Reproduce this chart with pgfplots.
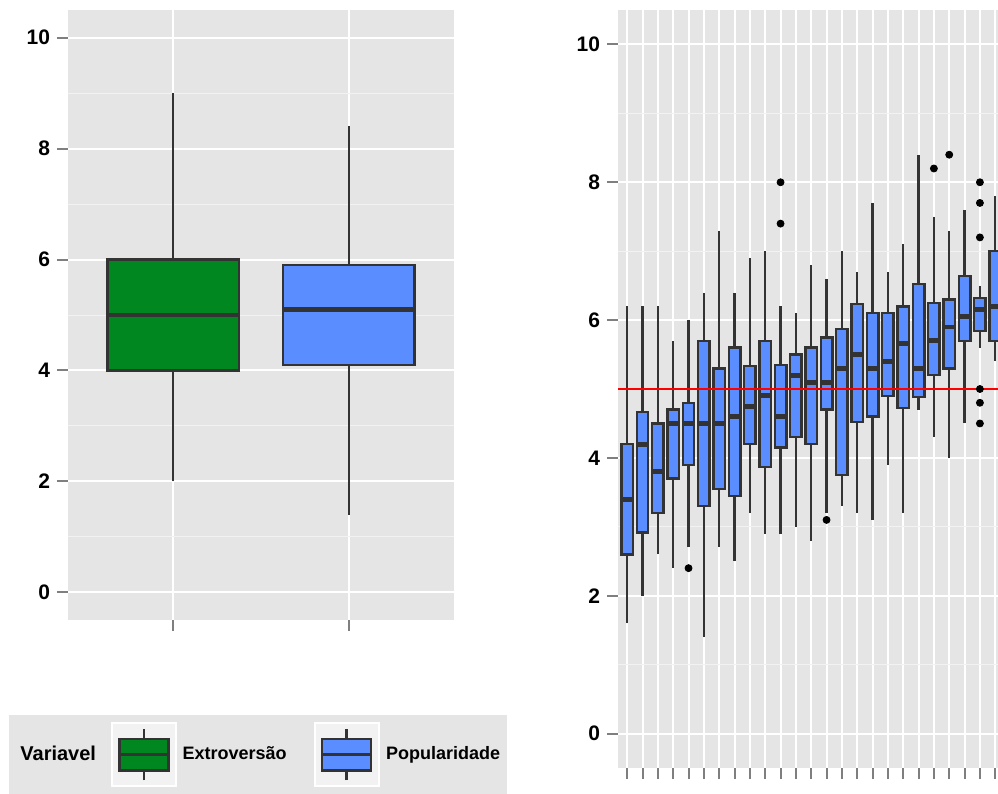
\documentclass[border=0pt]{standalone}
\usepackage{fontspec}
\setmainfont{Liberation Sans}
\usepackage{pgfplots}
\pgfplotsset{compat=1.18}
\usepgfplotslibrary{statistics}

\definecolor{panel}{HTML}{E5E5E5}
\definecolor{minorgrid}{HTML}{F2F2F2}
\definecolor{outline}{HTML}{333333}
\definecolor{tickgray}{HTML}{7F7F7F}
\definecolor{extrofill}{HTML}{00871F}
\definecolor{popfill}{HTML}{5A8DFF}
\definecolor{keybg}{HTML}{F2F2F2}

% legend key: a small boxplot glyph on a light square
\newcommand\boxkey[1]{%
  \draw[white, fill=keybg, line width=1pt] (0pt,-15.75pt) rectangle (32pt,15.75pt);
  \draw[outline, line width=1.2pt] (16pt,-12.75pt) -- (16pt,12.75pt);
  \draw[outline, fill=#1, line width=1.2pt] (3.8pt,-7.9pt) rectangle (28.2pt,7.9pt);
  \draw[outline, line width=1.4pt] (3.8pt,0pt) -- (28.2pt,0pt);
}

\pgfplotsset{
  ggpanel/.style={
    scale only axis,
    axis background/.style={fill=panel},
    axis line style={draw=none},
    ymin=-0.5, ymax=10.5,
    ytick={0,2,4,6,8,10},
    yticklabels={0,2,4,6,8,10},
    minor ytick={1,3,5,7,9},
    xmajorgrids, ymajorgrids, yminorgrids,
    major grid style={white, line width=1pt},
    minor grid style={minorgrid, line width=0.5pt},
    tick align=outside,
    tick pos=left,
    major tick length=5.5pt,
    minor tick length=0pt,
    tick style={tickgray, line width=1pt},
    xticklabels={},
    yticklabel style={font=\bfseries\fontsize{10.5}{12}\selectfont, text=black},
    boxplot/draw direction=y,
    boxplot/box extend=0.75,
    boxplot/whisker extend=0,
    boxplot/every median/.style={line width=2.4pt},
  },
  popbox/.style={draw=outline, fill=popfill, line width=1.2pt, forget plot},
}

\begin{document}
\begin{tikzpicture}
\useasboundingbox (0,0) rectangle (499pt,397pt);

% ---- left panel: overall distributions ----
\begin{axis}[ggpanel,
  at={(34pt,87pt)}, anchor=south west,
  width=193pt, height=305pt,
  xmin=0.4, xmax=2.6, xtick={1,2},
  legend columns=-1,
  legend style={
    at={(axis description cs:-0.1528,-0.1557)}, anchor=north west,
    fill=panel, draw=none,
    inner xsep=1.5pt, inner ysep=3.5pt,
    font=\bfseries\fontsize{9}{11}\selectfont,
    /tikz/column 1/.style={column sep=2pt},
    /tikz/column 2/.style={column sep=5.5pt},
    /tikz/column 3/.style={column sep=0.8pt},
    /tikz/column 4/.style={column sep=11.5pt},
    /tikz/column 5/.style={column sep=1.2pt},
  },
]
\addlegendimage{empty legend}
\addlegendentry{\fontsize{10}{12}\selectfont Variavel}
\addlegendimage{legend image code/.code={\boxkey{extrofill}}}
\addlegendentry{Extroversão}
\addlegendimage{legend image code/.code={\boxkey{popfill}}}
\addlegendentry{Popularidade}

\addplot[draw=outline, fill=extrofill, line width=1.2pt, forget plot,
  boxplot prepared={draw position=1, lower whisker=2, lower quartile=4,
    median=5, upper quartile=6, upper whisker=9}] coordinates {};
\addplot[popbox,
  boxplot prepared={draw position=2, lower whisker=1.4, lower quartile=4.1,
    median=5.1, upper quartile=5.9, upper whisker=8.4}] coordinates {};
\end{axis}

% ---- right panel: popularity by group ----
\begin{axis}[ggpanel,
  at={(309pt,13pt)}, anchor=south west,
  width=190pt, height=379pt,
  xmin=0.4, xmax=25.18, xtick={1,...,25},
]
\addplot[popbox, boxplot prepared={draw position=1,  lower whisker=1.6, lower quartile=2.6,  median=3.4,  upper quartile=4.2,  upper whisker=6.2}] coordinates {};
\addplot[popbox, boxplot prepared={draw position=2,  lower whisker=2.0, lower quartile=2.92, median=4.2,  upper quartile=4.67, upper whisker=6.2}] coordinates {};
\addplot[popbox, boxplot prepared={draw position=3,  lower whisker=2.6, lower quartile=3.2,  median=3.8,  upper quartile=4.5,  upper whisker=6.2}] coordinates {};
\addplot[popbox, boxplot prepared={draw position=4,  lower whisker=2.4, lower quartile=3.7,  median=4.5,  upper quartile=4.7,  upper whisker=5.7}] coordinates {};
\addplot[popbox, boxplot prepared={draw position=5,  lower whisker=2.7, lower quartile=3.9,  median=4.5,  upper quartile=4.8,  upper whisker=6.0}] coordinates {};
\addplot[popbox, boxplot prepared={draw position=6,  lower whisker=1.4, lower quartile=3.3,  median=4.5,  upper quartile=5.7,  upper whisker=6.4}] coordinates {};
\addplot[popbox, boxplot prepared={draw position=7,  lower whisker=2.7, lower quartile=3.55, median=4.5,  upper quartile=5.3,  upper whisker=7.3}] coordinates {};
\addplot[popbox, boxplot prepared={draw position=8,  lower whisker=2.5, lower quartile=3.45, median=4.6,  upper quartile=5.6,  upper whisker=6.4}] coordinates {};
\addplot[popbox, boxplot prepared={draw position=9,  lower whisker=3.2, lower quartile=4.2,  median=4.75, upper quartile=5.33, upper whisker=6.9}] coordinates {};
\addplot[popbox, boxplot prepared={draw position=10, lower whisker=2.9, lower quartile=3.87, median=4.9,  upper quartile=5.7,  upper whisker=7.0}] coordinates {};
\addplot[popbox, boxplot prepared={draw position=11, lower whisker=2.9, lower quartile=4.15, median=4.6,  upper quartile=5.35, upper whisker=6.2}] coordinates {};
\addplot[popbox, boxplot prepared={draw position=12, lower whisker=3.0, lower quartile=4.3,  median=5.2,  upper quartile=5.5,  upper whisker=6.1}] coordinates {};
\addplot[popbox, boxplot prepared={draw position=13, lower whisker=2.8, lower quartile=4.2,  median=5.1,  upper quartile=5.6,  upper whisker=6.8}] coordinates {};
\addplot[popbox, boxplot prepared={draw position=14, lower whisker=3.2, lower quartile=4.7,  median=5.1,  upper quartile=5.75, upper whisker=6.6}] coordinates {};
\addplot[popbox, boxplot prepared={draw position=15, lower whisker=3.3, lower quartile=3.75, median=5.3,  upper quartile=5.87, upper whisker=7.0}] coordinates {};
\addplot[popbox, boxplot prepared={draw position=16, lower whisker=3.2, lower quartile=4.52, median=5.5,  upper quartile=6.23, upper whisker=6.7}] coordinates {};
\addplot[popbox, boxplot prepared={draw position=17, lower whisker=3.1, lower quartile=4.6,  median=5.3,  upper quartile=6.1,  upper whisker=7.7}] coordinates {};
\addplot[popbox, boxplot prepared={draw position=18, lower whisker=3.9, lower quartile=4.9,  median=5.4,  upper quartile=6.1,  upper whisker=6.7}] coordinates {};
\addplot[popbox, boxplot prepared={draw position=19, lower whisker=3.2, lower quartile=4.72, median=5.66, upper quartile=6.2,  upper whisker=7.1}] coordinates {};
\addplot[popbox, boxplot prepared={draw position=20, lower whisker=4.7, lower quartile=4.88, median=5.3,  upper quartile=6.52, upper whisker=8.4}] coordinates {};
\addplot[popbox, boxplot prepared={draw position=21, lower whisker=4.3, lower quartile=5.2,  median=5.7,  upper quartile=6.25, upper whisker=7.5}] coordinates {};
\addplot[popbox, boxplot prepared={draw position=22, lower whisker=4.0, lower quartile=5.3,  median=5.9,  upper quartile=6.3,  upper whisker=7.3}] coordinates {};
\addplot[popbox, boxplot prepared={draw position=23, lower whisker=4.5, lower quartile=5.7,  median=6.05, upper quartile=6.64, upper whisker=7.6}] coordinates {};
\addplot[popbox, boxplot prepared={draw position=24, lower whisker=5.6, lower quartile=5.84, median=6.15, upper quartile=6.32, upper whisker=6.5}] coordinates {};
\addplot[popbox, boxplot prepared={draw position=25, lower whisker=5.4, lower quartile=5.7,  median=6.2,  upper quartile=7.0,  upper whisker=7.8}] coordinates {};

% outlying values
\addplot[only marks, mark=*, mark size=1.75pt, black, forget plot] coordinates {
  (5,2.4) (11,8.0) (11,7.4) (14,3.1) (21,8.2) (22,8.4)
  (24,8.0) (24,7.7) (24,7.2) (24,5.0) (24,4.8) (24,4.5)
};

% reference level
\addplot[red, line width=1.25pt, forget plot] coordinates {(0,5) (30,5)};
\end{axis}
\end{tikzpicture}
\end{document}
